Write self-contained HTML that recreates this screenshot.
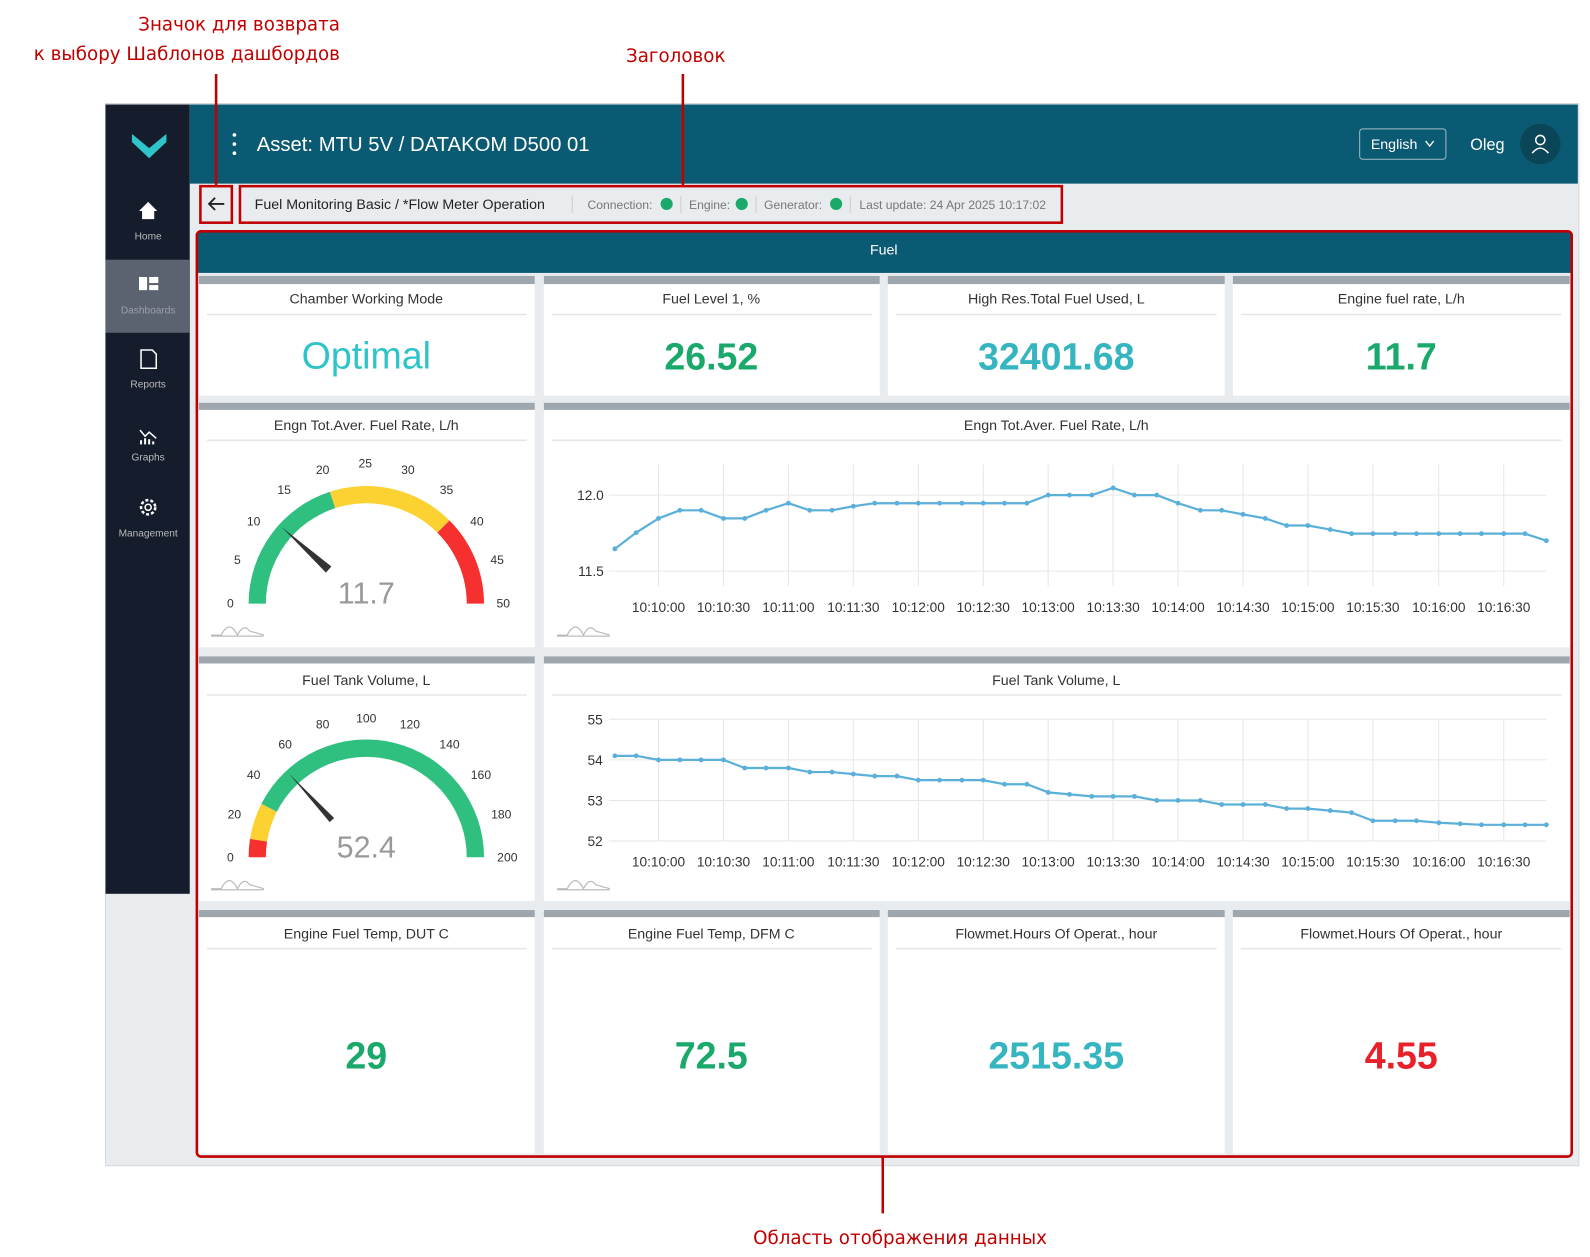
<!DOCTYPE html>
<html><head><meta charset="utf-8"><style>
html,body{margin:0;padding:0;background:#fff;}
svg{display:block;font-family:"Liberation Sans",sans-serif;}
.t{font-size:14px;fill:#333;text-anchor:middle;}
.ax{font-size:13.5px;fill:#333;}
.gl{font-size:12px;fill:#333;text-anchor:middle;}
.big{font-size:37px;text-anchor:middle;}
.ann{font-family:"DejaVu Sans",sans-serif;font-size:18px;fill:#c00000;}
</style></head><body>
<svg width="1590" height="1257" viewBox="0 0 1567 1239" preserveAspectRatio="none" xmlns="http://www.w3.org/2000/svg">
<!-- annotations -->
<text class="ann" x="335" y="30" text-anchor="end">Значок для возврата</text>
<text class="ann" x="335" y="59" text-anchor="end">к выбору Шаблонов дашбордов</text>
<text class="ann" x="666" y="61" text-anchor="middle">Заголовок</text>
<text class="ann" x="887" y="1226" text-anchor="middle">Область отображения данных</text>
<!-- frame -->
<rect x="104" y="102" width="1452" height="1047" fill="#e9ecef" stroke="#d5d8dc"/>
<!-- sidebar -->
<rect x="104" y="103" width="83" height="778" fill="#151c2c"/>
<rect x="104" y="256" width="83" height="72" fill="#5b6270"/>
<path d="M130,132 L147,146 L164,132 L164,140 L147,156 L130,140Z" fill="#2ec4c9"/>
<path d="M137,208 L146,199 L155,208 L152,208 L152,216 L140,216 L140,208Z" fill="#fff"/>
<text x="146" y="236" font-size="10" fill="#bbb" text-anchor="middle">Home</text>
<rect x="137" y="273" width="8" height="13" fill="#fff"/><rect x="147" y="273" width="9" height="6" fill="#fff"/><rect x="147" y="281" width="9" height="5" fill="#fff"/>
<text x="146" y="309" font-size="10" fill="#9aa0aa" text-anchor="middle">Dashboards</text>
<path d="M139,345 L150,345 L154,349 L154,363 L139,363Z" fill="none" stroke="#fff" stroke-width="1.5"/>
<text x="146" y="382" font-size="10" fill="#bbb" text-anchor="middle">Reports</text>
<path d="M138,424 L143,430 L147,426 L154,432" fill="none" stroke="#fff" stroke-width="1.5"/><path d="M139,438 L139,434 M143,438 L143,432 M147,438 L147,433 M151,438 L151,435" stroke="#fff" stroke-width="2"/>
<text x="146" y="454" font-size="10" fill="#bbb" text-anchor="middle">Graphs</text>
<circle cx="146" cy="500" r="7" fill="none" stroke="#fff" stroke-width="2.5" stroke-dasharray="3 2"/><circle cx="146" cy="500" r="3" fill="none" stroke="#fff" stroke-width="1.5"/>
<text x="146" y="529" font-size="10" fill="#bbb" text-anchor="middle">Management</text>
<!-- header -->
<rect x="187" y="103" width="1368" height="78" fill="#0b5a73"/>
<circle cx="231" cy="133" r="1.8" fill="#fff"/><circle cx="231" cy="142" r="1.8" fill="#fff"/><circle cx="231" cy="151" r="1.8" fill="#fff"/>
<text x="253" y="149" font-size="20" fill="#fff">Asset: MTU 5V / DATAKOM D500 01</text>
<rect x="1340" y="127" width="85" height="30" rx="3" fill="none" stroke="#9fbcc6"/>
<text x="1351" y="147" font-size="14" fill="#fff">English</text>
<path d="M1405,139 L1409,144 L1413,139" fill="none" stroke="#fff" stroke-width="1.3"/>
<text x="1449" y="148" font-size="16" fill="#fff">Oleg</text>
<circle cx="1518" cy="142" r="20" fill="#0a4658"/>
<circle cx="1518" cy="138" r="4.5" fill="none" stroke="#fff" stroke-width="1.5"/><path d="M1510,151 Q1518,141 1526,151" fill="none" stroke="#fff" stroke-width="1.5"/>
<!-- breadcrumb -->
<rect x="197.5" y="183.5" width="31" height="36" fill="none" stroke="#c00000" stroke-width="2.5"/>
<path d="M206,201 L221,201 M212,195 L206,201 L212,207" fill="none" stroke="#222" stroke-width="1.8"/>
<rect x="236.5" y="183.5" width="810" height="36" fill="none" stroke="#c00000" stroke-width="2.5"/>
<text x="251" y="206" font-size="14" fill="#222">Fuel Monitoring Basic / *Flow Meter Operation</text>
<g font-size="12" fill="#777">
<line x1="564" y1="193" x2="564" y2="210" stroke="#ccc"/>
<text x="579" y="206">Connection:</text><circle cx="657" cy="201" r="6" fill="#1aa86b"/>
<line x1="671" y1="193" x2="671" y2="210" stroke="#ccc"/>
<text x="679" y="206">Engine:</text><circle cx="731" cy="201" r="6" fill="#1aa86b"/>
<line x1="745" y1="193" x2="745" y2="210" stroke="#ccc"/>
<text x="753" y="206">Generator:</text><circle cx="824" cy="201" r="6" fill="#1aa86b"/>
<line x1="838" y1="193" x2="838" y2="210" stroke="#ccc"/>
<text x="847" y="206">Last update: 24 Apr 2025 10:17:02</text>
</g>
<!-- Fuel header -->
<rect x="195" y="229" width="1353" height="40" fill="#0b5a73"/>
<text x="871" y="251" font-size="14" fill="#fff" text-anchor="middle">Fuel</text>
<!-- cards -->
<g fill="#fff">
<rect x="196" y="272" width="331" height="118"/><rect x="536" y="272" width="331" height="118"/><rect x="875" y="272" width="332" height="118"/><rect x="1215" y="272" width="332" height="118"/>
<rect x="196" y="397" width="331" height="241"/><rect x="536" y="397" width="1011" height="241"/>
<rect x="196" y="647" width="331" height="241"/><rect x="536" y="647" width="1011" height="241"/>
<rect x="196" y="897" width="331" height="240"/><rect x="536" y="897" width="331" height="240"/><rect x="875" y="897" width="332" height="240"/><rect x="1215" y="897" width="332" height="240"/>
</g>
<g fill="#9ea7ad">
<rect x="196" y="272" width="331" height="8"/><rect x="536" y="272" width="331" height="8"/><rect x="875" y="272" width="332" height="8"/><rect x="1215" y="272" width="332" height="8"/>
<rect x="196" y="397" width="331" height="7"/><rect x="536" y="397" width="1011" height="7"/>
<rect x="196" y="647" width="331" height="7"/><rect x="536" y="647" width="1011" height="7"/>
<rect x="196" y="897" width="331" height="7"/><rect x="536" y="897" width="331" height="7"/><rect x="875" y="897" width="332" height="7"/><rect x="1215" y="897" width="332" height="7"/>
</g>
<g stroke="#e3e5e8" stroke-width="1.5">
<line x1="204" y1="310" x2="519" y2="310"/><line x1="544" y1="310" x2="859" y2="310"/><line x1="883" y1="310" x2="1199" y2="310"/><line x1="1223" y1="310" x2="1539" y2="310"/>
<line x1="204" y1="434" x2="519" y2="434"/><line x1="544" y1="434" x2="1539" y2="434"/>
<line x1="204" y1="685" x2="519" y2="685"/><line x1="544" y1="685" x2="1539" y2="685"/>
<line x1="204" y1="935" x2="519" y2="935"/><line x1="544" y1="935" x2="859" y2="935"/><line x1="883" y1="935" x2="1199" y2="935"/><line x1="1223" y1="935" x2="1539" y2="935"/>
</g>
<text class="t" x="361" y="299">Chamber Working Mode</text>
<text class="t" x="701" y="299">Fuel Level 1, %</text>
<text class="t" x="1041" y="299">High Res.Total Fuel Used, L</text>
<text class="t" x="1381" y="299">Engine fuel rate, L/h</text>
<text class="t" x="361" y="424">Engn Tot.Aver. Fuel Rate, L/h</text>
<text class="t" x="1041" y="424">Engn Tot.Aver. Fuel Rate, L/h</text>
<text class="t" x="361" y="675">Fuel Tank Volume, L</text>
<text class="t" x="1041" y="675">Fuel Tank Volume, L</text>
<text class="t" x="361" y="925">Engine Fuel Temp, DUT C</text>
<text class="t" x="701" y="925">Engine Fuel Temp, DFM C</text>
<text class="t" x="1041" y="925">Flowmet.Hours Of Operat., hour</text>
<text class="t" x="1381" y="925">Flowmet.Hours Of Operat., hour</text>
<text class="big" x="361" y="363" fill="#2ec4c9" font-size="32">Optimal</text>
<text class="big" x="701" y="364" fill="#1aa86b" font-weight="bold">26.52</text>
<text class="big" x="1041" y="364" fill="#35b5c0" font-weight="bold">32401.68</text>
<text class="big" x="1381" y="364" fill="#1aa86b" font-weight="bold">11.7</text>
<text class="big" x="361" y="1053" fill="#1aa86b" font-weight="bold">29</text>
<text class="big" x="701" y="1053" fill="#1aa86b" font-weight="bold">72.5</text>
<text class="big" x="1041" y="1053" fill="#35b5c0" font-weight="bold">2515.35</text>
<text class="big" x="1381" y="1053" fill="#e8202a" font-weight="bold">4.55</text>
<!-- gauge 1 -->
<path d="M245,595 A116,116 0 0 1 325.2,484.7 L330.4,500.9 A99,99 0 0 0 262,595 Z" fill="#2fbf7f"/>
<path d="M325.2,484.7 A116,116 0 0 1 443,513 L431,525 A99,99 0 0 0 330.4,500.9 Z" fill="#fcd232"/>
<path d="M443,513 A116,116 0 0 1 477,595 L460,595 A99,99 0 0 0 431,525 Z" fill="#f5302f"/>
<polygon points="277.9,519.8 326.6,558.4 321.2,564.4" fill="#333"/>
<text x="361" y="595" font-size="30" fill="#999" text-anchor="middle">11.7</text>
<g class="gl"><text x="227" y="599">0</text><text x="234" y="556">5</text><text x="250" y="518">10</text><text x="280" y="487">15</text><text x="318" y="467">20</text><text x="360" y="461">25</text><text x="402" y="467">30</text><text x="440" y="487">35</text><text x="470" y="518">40</text><text x="490" y="556">45</text><text x="496" y="599">50</text></g>
<!-- gauge 2 -->
<path d="M245,845 A116,116 0 0 1 246.4,826.9 L263.2,829.5 A99,99 0 0 0 262,845 Z" fill="#f5302f"/>
<path d="M246.4,826.9 A116,116 0 0 1 257.6,792.3 L272.8,800.1 A99,99 0 0 0 263.2,829.5 Z" fill="#fcd232"/>
<path d="M257.6,792.3 A116,116 0 0 1 477,845 L460,845 A99,99 0 0 0 272.8,800.1 Z" fill="#2fbf7f"/>
<polygon points="285,762.8 329.3,806.3 324.9,810.3" fill="#333"/>
<text x="361" y="845" font-size="30" fill="#999" text-anchor="middle">52.4</text>
<g class="gl"><text x="227" y="849">0</text><text x="231" y="807">20</text><text x="250" y="768">40</text><text x="281" y="738">60</text><text x="318" y="718">80</text><text x="361" y="712">100</text><text x="404" y="718">120</text><text x="443" y="738">140</text><text x="474" y="768">160</text><text x="494" y="807">180</text><text x="500" y="849">200</text></g>
<!-- wave icons -->
<g fill="none" stroke="#bbb" stroke-width="1.2">
<path d="M208,626 L218,626 Q226,610 234,626 Q240,614 246,622 L260,626 M208,627 H260"/>
<path d="M549,626 L559,626 Q567,610 575,626 Q581,614 587,622 L601,626 M549,627 H601"/>
<path d="M208,876 L218,876 Q226,860 234,876 Q240,864 246,872 L260,876 M208,877 H260"/>
<path d="M549,876 L559,876 Q567,860 575,876 Q581,864 587,872 L601,876 M549,877 H601"/>
</g>
<!-- chart 1 grid -->
<g stroke="#e6e6e6" stroke-width="1">
<line x1="600" y1="488" x2="1524" y2="488"/><line x1="600" y1="563" x2="1524" y2="563"/>
<line x1="649" y1="458" x2="649" y2="578"/><line x1="713" y1="458" x2="713" y2="578"/><line x1="777" y1="458" x2="777" y2="578"/><line x1="841" y1="458" x2="841" y2="578"/><line x1="905" y1="458" x2="905" y2="578"/><line x1="969" y1="458" x2="969" y2="578"/><line x1="1033" y1="458" x2="1033" y2="578"/><line x1="1097" y1="458" x2="1097" y2="578"/><line x1="1161" y1="458" x2="1161" y2="578"/><line x1="1225" y1="458" x2="1225" y2="578"/><line x1="1289" y1="458" x2="1289" y2="578"/><line x1="1353" y1="458" x2="1353" y2="578"/><line x1="1418" y1="458" x2="1418" y2="578"/><line x1="1482" y1="458" x2="1482" y2="578"/>
</g>
<text class="ax" x="595" y="493" text-anchor="end">12.0</text><text class="ax" x="595" y="568" text-anchor="end">11.5</text>
<g class="ax" text-anchor="middle">
<text x="649" y="603">10:10:00</text><text x="713" y="603">10:10:30</text><text x="777" y="603">10:11:00</text><text x="841" y="603">10:11:30</text><text x="905" y="603">10:12:00</text><text x="969" y="603">10:12:30</text><text x="1033" y="603">10:13:00</text><text x="1097" y="603">10:13:30</text><text x="1161" y="603">10:14:00</text><text x="1225" y="603">10:14:30</text><text x="1289" y="603">10:15:00</text><text x="1353" y="603">10:15:30</text><text x="1418" y="603">10:16:00</text><text x="1482" y="603">10:16:30</text>
</g>
<defs><marker id="dot" markerWidth="6" markerHeight="6" refX="3" refY="3" markerUnits="userSpaceOnUse"><circle cx="3" cy="3" r="2.4" fill="#5bb0da"/></marker></defs>
<polyline fill="none" stroke="#5bb0da" stroke-width="2.2" stroke-linejoin="round" marker-mid="url(#dot)" marker-start="url(#dot)" marker-end="url(#dot)"
points="606,541 627,525 649,511 670,503 691,503 713,511 734,511 755,503 777,496 798,503 820,503 841,499 862,496 884,496 905,496 926,496 948,496 969,496 990,496 1012,496 1033,488 1054,488 1076,488 1097,481 1118,488 1140,488 1161,496 1183,503 1204,503 1225,507 1247,511 1268,518 1289,518 1311,522 1332,526 1353,526 1375,526 1396,526 1418,526 1439,526 1460,526 1482,526 1503,526 1524,533"/>
<!-- chart 2 grid -->
<g stroke="#e6e6e6" stroke-width="1">
<line x1="600" y1="709" x2="1524" y2="709"/><line x1="600" y1="749" x2="1524" y2="749"/><line x1="600" y1="789" x2="1524" y2="789"/><line x1="600" y1="829" x2="1524" y2="829"/>
<line x1="649" y1="709" x2="649" y2="829"/><line x1="713" y1="709" x2="713" y2="829"/><line x1="777" y1="709" x2="777" y2="829"/><line x1="841" y1="709" x2="841" y2="829"/><line x1="905" y1="709" x2="905" y2="829"/><line x1="969" y1="709" x2="969" y2="829"/><line x1="1033" y1="709" x2="1033" y2="829"/><line x1="1097" y1="709" x2="1097" y2="829"/><line x1="1161" y1="709" x2="1161" y2="829"/><line x1="1225" y1="709" x2="1225" y2="829"/><line x1="1289" y1="709" x2="1289" y2="829"/><line x1="1353" y1="709" x2="1353" y2="829"/><line x1="1418" y1="709" x2="1418" y2="829"/><line x1="1482" y1="709" x2="1482" y2="829"/>
</g>
<g class="ax" text-anchor="end"><text x="594" y="714">55</text><text x="594" y="754">54</text><text x="594" y="794">53</text><text x="594" y="834">52</text></g>
<g class="ax" text-anchor="middle">
<text x="649" y="854">10:10:00</text><text x="713" y="854">10:10:30</text><text x="777" y="854">10:11:00</text><text x="841" y="854">10:11:30</text><text x="905" y="854">10:12:00</text><text x="969" y="854">10:12:30</text><text x="1033" y="854">10:13:00</text><text x="1097" y="854">10:13:30</text><text x="1161" y="854">10:14:00</text><text x="1225" y="854">10:14:30</text><text x="1289" y="854">10:15:00</text><text x="1353" y="854">10:15:30</text><text x="1418" y="854">10:16:00</text><text x="1482" y="854">10:16:30</text>
</g>
<polyline fill="none" stroke="#5bb0da" stroke-width="2.2" stroke-linejoin="round" marker-mid="url(#dot)" marker-start="url(#dot)" marker-end="url(#dot)"
points="606,745 627,745 649,749 670,749 691,749 713,749 734,757 755,757 777,757 798,761 820,761 841,763 862,765 884,765 905,769 926,769 948,769 969,769 990,773 1012,773 1033,781 1054,783 1076,785 1097,785 1118,785 1140,789 1161,789 1183,789 1204,793 1225,793 1247,793 1268,797 1289,797 1311,799 1332,801 1353,809 1375,809 1396,809 1418,811 1439,812 1460,813 1482,813 1503,813 1524,813"/>
<!-- red data area -->
<rect x="194" y="228" width="1355" height="912" rx="4" fill="none" stroke="#c00000" stroke-width="2.5"/>
<!-- pointer lines -->
<g stroke="#c00000" stroke-width="2.5">
<line x1="213" y1="73" x2="213" y2="183"/><line x1="673" y1="73" x2="673" y2="183"/><line x1="870" y1="1141" x2="870" y2="1196"/>
</g>
</svg>
</body></html>
